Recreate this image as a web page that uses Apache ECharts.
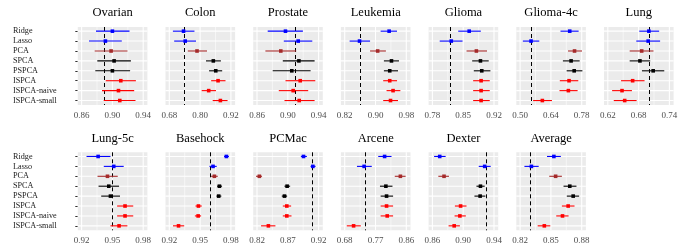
<!DOCTYPE html>
<html><head><meta charset="utf-8">
<script src="https://cdn.jsdelivr.net/npm/echarts@6/dist/echarts.min.js"></script>
<style>html,body{margin:0;padding:0;background:#fff}#c{width:680px;height:250px}</style>
</head><body><div id="c"></div>
<script>
const methods = ['Ridge','Lasso','PCA','SPCA','PSPCA','ISPCA','ISPCA-naive','ISPCA-small'];
const panels = ['Ovarian','Colon','Prostate','Leukemia','Glioma','Glioma-4c','Lung','Lung-5c','Basehock','PCMac','Arcene','Dexter','Average'];

const ticksOvarian  = [0.86,0.90,0.94];
const ticksColon    = [0.68,0.80,0.92];
const ticksProstate = [0.86,0.90,0.94];
const ticksLeukemia = [0.82,0.90,0.98];
const ticksGlioma   = [0.78,0.85,0.92];
const ticksGlioma4c = [0.50,0.64,0.78];
const ticksLung     = [0.62,0.68,0.74];
const ticksLung5c   = [0.92,0.95,0.98];
const ticksBasehock = [0.92,0.95,0.98];
const ticksPCMac    = [0.82,0.87,0.92];
const ticksArcene   = [0.68,0.77,0.86];
const ticksDexter   = [0.86,0.90,0.94];
const ticksAverage  = [0.82,0.85,0.88];

const loOvarian   = [0.8787,0.8696,0.8770,0.8804,0.8778,0.8913,0.8865,0.8887];
const meanOvarian = [0.9000,0.8909,0.8983,0.9022,0.9000,0.9109,0.9079,0.9096];
const hiOvarian   = [0.9222,0.9122,0.9196,0.9240,0.9230,0.9305,0.9283,0.9300];

const loColon   = [0.694,0.699,0.752,0.823,0.835,0.843,0.806,0.849];
const meanColon = [0.7355,0.742,0.788,0.8516,0.861,0.870,0.8335,0.879];
const hiColon   = [0.778,0.784,0.827,0.881,0.886,0.899,0.862,0.907];

const loProstate   = [0.8739,0.8948,0.8709,0.8935,0.8804,0.8970,0.8883,0.8957];
const meanProstate = [0.8970,0.9135,0.8909,0.9144,0.9052,0.9161,0.9070,0.9148];
const hiProstate   = [0.9196,0.9318,0.9109,0.9348,0.9296,0.9357,0.9265,0.9348];

const loLeukemia   = [0.9133,0.8328,0.8859,0.9218,0.9218,0.9200,0.9287,0.9200];
const meanLeukemia = [0.9354,0.8585,0.9056,0.9415,0.9370,0.9370,0.9456,0.9390];
const hiLeukemia   = [0.9559,0.8859,0.9270,0.9610,0.9585,0.9560,0.9646,0.9585];

const loGlioma   = [0.8387,0.7966,0.8576,0.8704,0.8741,0.8726,0.8726,0.8726];
const meanGlioma = [0.8636,0.8229,0.8800,0.8892,0.8922,0.8907,0.8907,0.8907];
const hiGlioma   = [0.8900,0.8485,0.9042,0.9080,0.9118,0.9103,0.9103,0.9103];

const loGlioma4c   = [0.6836,0.5124,0.7178,0.6945,0.7116,0.6805,0.6790,0.5591];
const meanGlioma4c = [0.7256,0.5498,0.7474,0.7318,0.7458,0.7225,0.7194,0.6011];
const hiGlioma4c   = [0.7660,0.5871,0.7816,0.7707,0.7832,0.7645,0.7614,0.6447];

const loLung   = [0.6813,0.6755,0.6626,0.6626,0.6865,0.6458,0.6284,0.6316];
const meanLung = [0.7000,0.6987,0.6860,0.6826,0.7084,0.6684,0.6477,0.6529];
const hiLung   = [0.7200,0.7219,0.7090,0.7026,0.7300,0.6916,0.6670,0.6761];

const loLung5c   = [0.9248,0.9416,0.9355,0.9365,0.9391,0.9546,0.9546,0.9481];
const meanLung5c = [0.9361,0.9513,0.9452,0.9465,0.9481,0.9623,0.9623,0.9565];
const hiLung5c   = [0.9481,0.9610,0.9552,0.9565,0.9574,0.9703,0.9703,0.9646];

const loBasehock   = [0.9733,0.9591,0.9607,0.9665,0.9659,0.9455,0.9449,0.9236];
const meanBasehock = [0.9756,0.9626,0.9639,0.9688,0.9681,0.9484,0.9481,0.9290];
const hiBasehock   = [0.9781,0.9662,0.9672,0.9714,0.9707,0.9516,0.9510,0.9345];

const loPCMac   = [0.8912,0.9069,0.8184,0.8646,0.8602,0.8619,0.8619,0.8266];
const meanPCMac = [0.8955,0.9107,0.8238,0.8689,0.8646,0.8684,0.8684,0.8385];
const hiPCMac   = [0.9010,0.9151,0.8282,0.8738,0.8689,0.8754,0.8760,0.8499];

const loArcene   = [0.7780,0.7158,0.8263,0.7830,0.7850,0.7850,0.7850,0.6860];
const meanArcene = [0.7966,0.7368,0.8427,0.8003,0.8023,0.8023,0.8042,0.7060];
const hiArcene   = [0.8168,0.7591,0.8580,0.8196,0.8214,0.8214,0.8214,0.7270];

const loDexter   = [0.8622,0.9202,0.8677,0.9172,0.9146,0.8892,0.8888,0.8810];
const meanDexter = [0.8695,0.9279,0.8751,0.9224,0.9220,0.8966,0.8957,0.8883];
const hiDexter   = [0.8772,0.9357,0.8815,0.9279,0.9288,0.9043,0.9034,0.8957];

const loAverage   = [0.8462,0.8242,0.8484,0.8623,0.8655,0.8607,0.8552,0.8371];
const meanAverage = [0.8529,0.8310,0.8546,0.8684,0.8717,0.8668,0.8613,0.8436];
const hiAverage   = [0.8597,0.8381,0.8607,0.8749,0.8775,0.8730,0.8672,0.8494];

const tickList = [ticksOvarian,ticksColon,ticksProstate,ticksLeukemia,ticksGlioma,ticksGlioma4c,ticksLung,ticksLung5c,ticksBasehock,ticksPCMac,ticksArcene,ticksDexter,ticksAverage];
const loList = [loOvarian,loColon,loProstate,loLeukemia,loGlioma,loGlioma4c,loLung,loLung5c,loBasehock,loPCMac,loArcene,loDexter,loAverage];
const meanList = [meanOvarian,meanColon,meanProstate,meanLeukemia,meanGlioma,meanGlioma4c,meanLung,meanLung5c,meanBasehock,meanPCMac,meanArcene,meanDexter,meanAverage];
const hiList = [hiOvarian,hiColon,hiProstate,hiLeukemia,hiGlioma,hiGlioma4c,hiLung,hiLung5c,hiBasehock,hiPCMac,hiArcene,hiDexter,hiAverage];

// ---- styling / layout ----
const methodColors = ['#0000FF','#0000FF','#A52A2A','#000000','#000000','#FF0000','#FF0000','#FF0000'];
const FONT = '"Liberation Serif", "DejaVu Serif", serif';
const PANEL_W = 69.6, PANEL_H = 78;
const PAD_L = 3.8, PAD_R = 4.2;
const COL_X0 = 77.8, COL_PITCH = 87.7;
const ROW_TOP = [27, 152.3];
const Y_MIN = -0.42, Y_MAX = 7.45;
const rowIdx = methods.map((m, i) => i);

const grids = [], xAxes = [], yAxes = [], series = [], titles = [];
panels.forEach((name, p) => {
  const row = p < 7 ? 0 : 1;
  const col = p < 7 ? p : p - 7;
  const left = COL_X0 + COL_PITCH * col;
  const top = ROW_TOP[row];
  const t = tickList[p];
  const span = t[2] - t[0];
  const innerW = PANEL_W - PAD_L - PAD_R;
  const xmin = t[0] - PAD_L / innerW * span;
  const xmax = t[2] + PAD_R / innerW * span;
  const minor = [(t[0] + t[1]) / 2, (t[1] + t[2]) / 2];
  grids.push({left: left, top: top, width: PANEL_W, height: PANEL_H, show: false,
    containLabel: false, outerBoundsMode: 'none'});
  titles.push({text: name, left: left + PANEL_W / 2, top: top - 20.5, padding: 0, textAlign: 'center',
    textStyle: {fontFamily: FONT, fontSize: 12.5, fontWeight: 'normal', color: '#000'}});
  xAxes.push({type: 'value', gridIndex: p, min: xmin, max: xmax, position: 'bottom',
    axisLine: {show: false},
    axisTick: {show: true, length: 2.8, customValues: t, lineStyle: {color: '#333', width: 1}},
    axisLabel: {show: true, customValues: t, margin: 6, fontFamily: FONT, fontSize: 9, color: '#4D4D4D',
      formatter: v => Number(v).toFixed(2)},
    splitLine: {show: false}
  });
  const showY = col === 0;
  yAxes.push({type: 'value', gridIndex: p, min: Y_MIN, max: Y_MAX, inverse: true,
    axisLine: {show: false},
    axisTick: {show: showY, length: 2.5, customValues: rowIdx, lineStyle: {color: '#333'}},
    axisLabel: {show: showY, customValues: rowIdx, align: 'left', margin: left - 13,
      fontFamily: FONT, fontSize: 8.2, color: '#1A1A1A', formatter: v => methods[Math.round(v)] || ''},
    splitLine: {show: false}
  });
  // panel background + grid lines, drawn through the panel's own axes
  series.push({
    type: 'custom', xAxisIndex: p, yAxisIndex: p, z: 1, silent: true, clip: false,
    encode: {x: 0, y: 1},
    data: [[t[1], 0]],
    renderItem: (params, api) => {
      const cs = params.coordSys;
      const kids = [{type: 'rect', shape: {x: cs.x, y: cs.y, width: cs.width, height: cs.height}, style: {fill: '#EBEBEB'}}];
      minor.forEach(v => {
        const x = api.coord([v, 0])[0];
        kids.push({type: 'line', shape: {x1: x, y1: cs.y, x2: x, y2: cs.y + cs.height}, style: {stroke: '#FFFFFF', lineWidth: 0.55}});
      });
      t.forEach(v => {
        const x = api.coord([v, 0])[0];
        kids.push({type: 'line', shape: {x1: x, y1: cs.y, x2: x, y2: cs.y + cs.height}, style: {stroke: '#FFFFFF', lineWidth: 1.1}});
      });
      rowIdx.forEach(i => {
        const y = api.coord([t[1], i])[1];
        kids.push({type: 'line', shape: {x1: cs.x, y1: y, x2: cs.x + cs.width, y2: y}, style: {stroke: '#FFFFFF', lineWidth: 1.1}});
      });
      return {type: 'group', children: kids};
    }
  });
  const data = methods.map((m, i) => [i, loList[p][i], meanList[p][i], hiList[p][i]]);
  series.push({
    type: 'custom', xAxisIndex: p, yAxisIndex: p, z: 3, clip: false,
    encode: {x: [1, 2, 3], y: 0},
    data: data,
    renderItem: (params, api) => {
      const y = api.value(0);
      const a = api.coord([api.value(1), y]);
      const b = api.coord([api.value(3), y]);
      const m = api.coord([api.value(2), y]);
      const c = methodColors[y];
      return {type: 'group', children: [
        {type: 'line', shape: {x1: a[0], y1: a[1], x2: b[0], y2: b[1]}, style: {stroke: c, lineWidth: 1.1}},
        {type: 'rect', shape: {x: m[0] - 1.8, y: m[1] - 1.8, width: 3.6, height: 3.6}, style: {fill: c}}
      ]};
    },
    markLine: {silent: true, symbol: 'none', animation: false, z: 2,
      label: {show: false},
      lineStyle: {color: '#000', type: [4, 3], width: 1},
      data: [{xAxis: meanList[p][1]}]}
  });
});

const chart = echarts.init(document.getElementById('c'), null, {renderer: 'canvas'});
chart.setOption({
  animation: false,
  backgroundColor: '#FFFFFF',
  title: titles,
  grid: grids,
  xAxis: xAxes,
  yAxis: yAxes,
  series: series
});
</script>
</body></html>
